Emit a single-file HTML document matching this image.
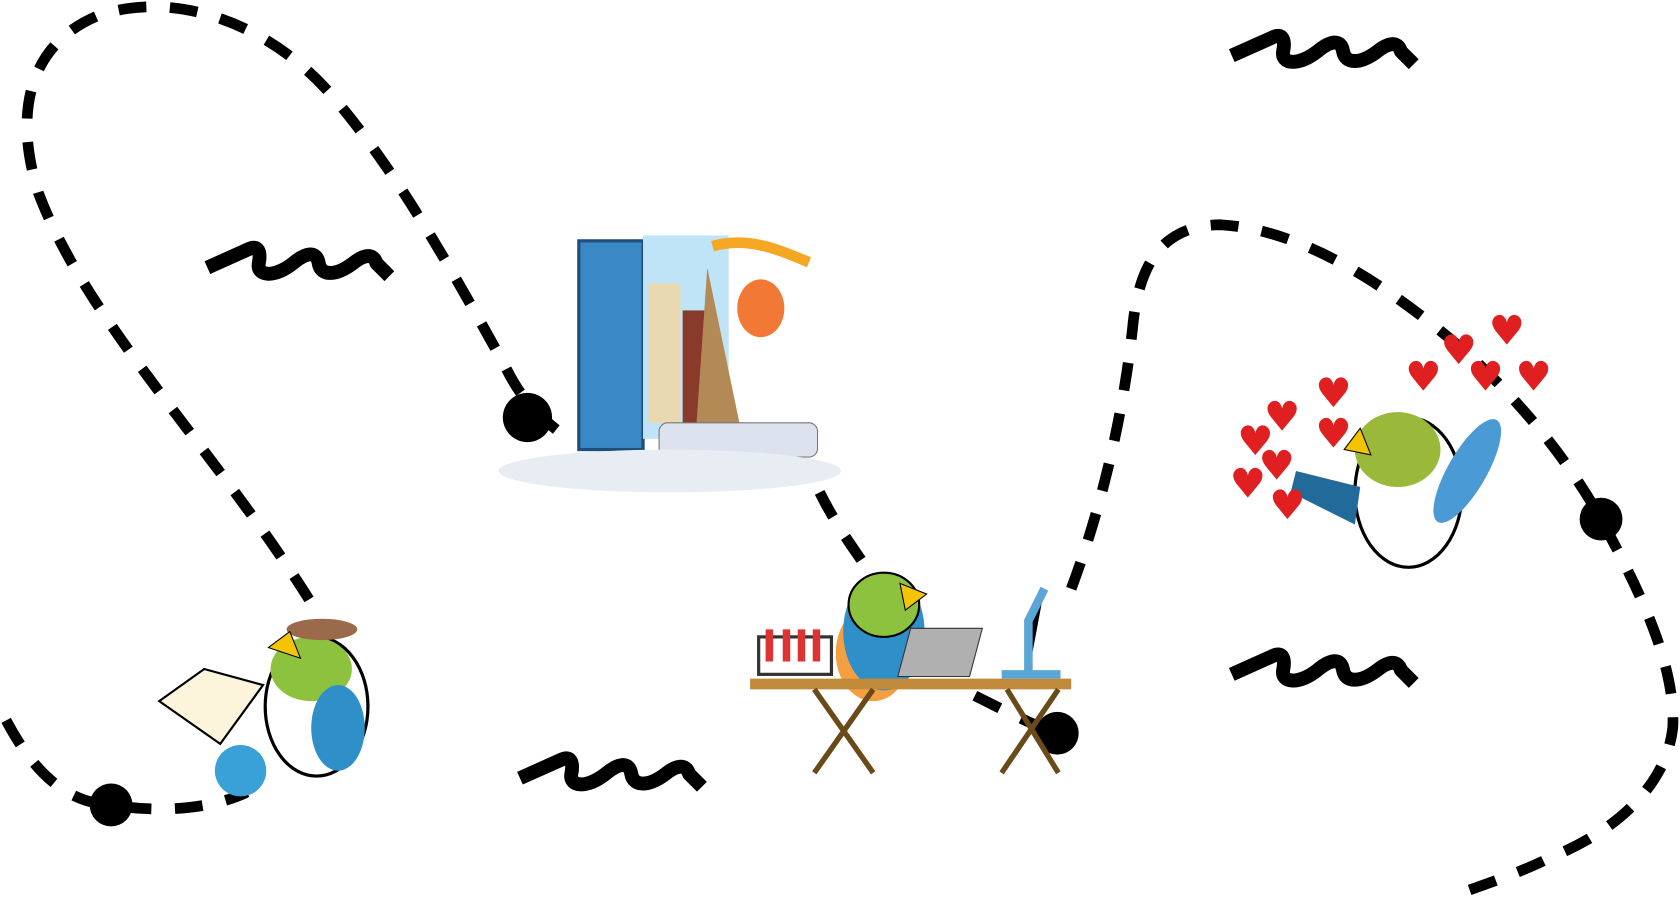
<!DOCTYPE html>
<html><head><meta charset="utf-8"><style>
html,body{margin:0;padding:0;background:#fff;overflow:hidden}
svg{display:block}
</style></head><body>
<svg width="1680" height="897" viewBox="0 0 1568 838" xmlns="http://www.w3.org/2000/svg">
<defs>
<g id="sq"><path d="M0,22 L38,5 C48,0 50,8 48,18 C46,30 62,32 80,18 C92,8 102,6 104,18 C106,30 120,30 136,18 C146,10 155,8 158,18 L170,30" fill="none" stroke="#000" stroke-width="13" stroke-linecap="butt" stroke-linejoin="round"/></g>
</defs>
<g fill="none" stroke="#000" stroke-width="10" stroke-dasharray="26 22">
<path d="M5,673 C30,720 60,750 103,752 C150,760 200,755 230,740"/>
<path d="M288,560 C200,420 80,300 35,180 C10,100 30,40 90,15 C160,-10 250,20 310,90 C370,160 420,250 470,340 C480,360 490,380 530,410"/>
<path d="M765,460 C780,490 795,510 805,525"/>
<path d="M910,650 C940,665 970,680 987,685"/>
<path d="M1000,550 C1030,470 1050,380 1058,300 C1065,240 1090,210 1140,210 C1220,215 1300,270 1370,330 C1430,385 1470,440 1495,485 C1530,550 1565,620 1562,680 C1555,740 1500,780 1450,800 C1420,815 1390,825 1362,835"/>
</g>
<g fill="#000">
<circle cx="103" cy="752" r="20"/><circle cx="492" cy="390" r="23"/><circle cx="987" cy="685" r="20"/><circle cx="1495" cy="485" r="20"/>
</g>
<use href="#sq" x="193" y="228"/>
<use href="#sq" x="1150" y="30"/>
<use href="#sq" x="485" y="705"/>
<use href="#sq" x="1150" y="608"/>
<!-- book illustration -->
<g>
<rect x="540" y="225" width="60" height="195" fill="#3a88c5" stroke="#1d4f7a" stroke-width="3"/>
<rect x="600" y="220" width="80" height="190" fill="#bfe3f7"/>
<rect x="605" y="265" width="30" height="130" fill="#e8d9b0"/>
<rect x="637" y="290" width="22" height="110" fill="#8a3a2a"/>
<path d="M660,250 L650,395 L690,395 Z" fill="#b38a55"/>
<ellipse cx="710" cy="288" rx="22" ry="27" fill="#f27935"/>
<path d="M665,230 C700,220 730,235 755,245" stroke="#f5a623" stroke-width="10" fill="none"/>
<rect x="615" y="395" width="148" height="32" rx="8" fill="#dde3ee" stroke="#777"/>
<ellipse cx="625" cy="440" rx="160" ry="20" fill="#e8ecf3"/>
</g>
<!-- bird 1 -->
<g>
<ellipse cx="295" cy="660" rx="48" ry="65" fill="#fff" stroke="#000" stroke-width="3"/>
<ellipse cx="290" cy="625" rx="38" ry="30" fill="#8dc23f"/>
<ellipse cx="315" cy="680" rx="25" ry="40" fill="#2f8fc9"/>
<ellipse cx="300" cy="588" rx="33" ry="10" fill="#9a6a4a"/>
<path d="M250,605 L270,590 L280,615 Z" fill="#f5c400" stroke="#000"/>
<path d="M148,655 L190,625 L245,640 L205,695 Z" fill="#fdf4dc" stroke="#000" stroke-width="2"/>
<circle cx="224" cy="720" r="24" fill="#3aa0d8"/>
</g>
<!-- bird 2 desk -->
<g>
<ellipse cx="815" cy="610" rx="35" ry="45" fill="#f5a040"/>
<ellipse cx="825" cy="590" rx="38" ry="55" fill="#2f8fc9"/>
<ellipse cx="825" cy="565" rx="33" ry="30" fill="#8dc23f" stroke="#000" stroke-width="2"/>
<path d="M840,545 L865,555 L845,570 Z" fill="#f5c400" stroke="#000"/>
<path d="M850,587 L917,587 L905,632 L838,632 Z" fill="#b0b0b0" stroke="#333"/>
<rect x="700" y="634" width="300" height="10" fill="#c08a3a"/>
<path d="M760,644 L815,722 M815,644 L760,722 M940,644 L988,722 M988,644 L935,722" stroke="#6b4a1a" stroke-width="5"/>
<rect x="708" y="595" width="68" height="35" fill="none" stroke="#333" stroke-width="3"/>
<path d="M718,588 v30 M734,588 v30 M748,588 v30 M762,588 v30" stroke="#d33" stroke-width="7"/>
<path d="M935,630 L990,630 M960,630 L960,580 L975,550" stroke="#5aa6d6" stroke-width="8"/>
</g>
<!-- bird 3 hearts -->
<g>
<ellipse cx="1315" cy="460" rx="50" ry="70" fill="#fff" stroke="#000" stroke-width="3"/>
<ellipse cx="1305" cy="420" rx="40" ry="35" fill="#9ab93a"/>
<path d="M1270,400 L1255,420 L1280,425 Z" fill="#f5c400" stroke="#000"/>
<path d="M1210,440 L1270,455 L1265,490 L1205,460 Z" fill="#226a99"/>
<ellipse cx="1370" cy="440" rx="18" ry="55" fill="#4a9ad6" transform="rotate(30 1370 440)"/>
<g fill="#e02020" font-size="38" font-family="DejaVu Sans, sans-serif">
<text x="1390" y="322">♥</text><text x="1415" y="365">♥</text><text x="1370" y="365">♥</text><text x="1312" y="365">♥</text>
<text x="1228" y="380">♥</text><text x="1180" y="402">♥</text><text x="1228" y="418">♥</text><text x="1155" y="425">♥</text>
<text x="1175" y="448">♥</text><text x="1148" y="465">♥</text><text x="1185" y="485">♥</text><text x="1345" y="340">♥</text>
</g>
</g>
</svg>
</body></html>
